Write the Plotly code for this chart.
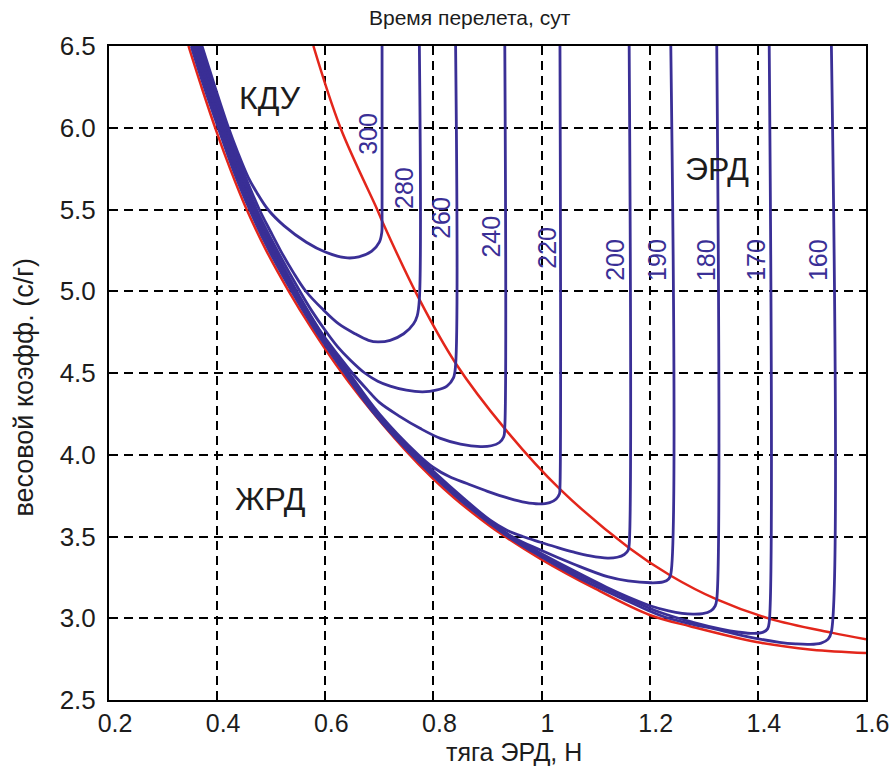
import plotly.graph_objects as go

# ---- axis ticks ----
X_TICKS = [0.2, 0.4, 0.6, 0.8, 1.0, 1.2, 1.4, 1.6]
X_TICK_TEXT = ["0.2", "0.4", "0.6", "0.8", "1", "1.2", "1.4", "1.6"]
Y_TICKS = [2.5, 3.0, 3.5, 4.0, 4.5, 5.0, 5.5, 6.0, 6.5]
Y_TICK_TEXT = ["2.5", "3.0", "3.5", "4.0", "4.5", "5.0", "5.5", "6.0", "6.5"]

# ---- red boundary curves ----
LOWER_X = [0.347, 0.372, 0.399, 0.425, 0.452, 0.489, 0.532, 0.575, 0.62, 0.665,
           0.748, 0.8, 0.838, 0.887, 0.924, 0.998, 1.1, 1.2, 1.276, 1.4, 1.5, 1.6]
LOWER_Y = [6.5, 6.24, 5.975, 5.741, 5.52, 5.261, 5.003, 4.771, 4.55, 4.352,
           4.028, 3.851, 3.737, 3.607, 3.518, 3.363, 3.179, 3.02, 2.95, 2.853, 2.808, 2.788]

UPPER_X = [0.578, 0.628, 0.696, 0.705, 0.774, 0.841, 0.932, 1.034, 1.162, 1.239,
           1.324, 1.421, 1.536, 1.6]
UPPER_Y = [6.5, 6.0, 5.5, 5.43, 4.95, 4.56, 4.16, 3.79, 3.43, 3.26,
           3.115, 2.998, 2.912, 2.872]

# ---- transfer-time curves (days) ----
T300_X = [0.372, 0.396, 0.421, 0.438, 0.457, 0.474, 0.494, 0.524, 0.565, 0.60,
          0.637, 0.662, 0.686, 0.70, 0.7045, 0.705, 0.705]
T300_Y = [6.5, 6.25, 6.0, 5.85, 5.7, 5.6, 5.5, 5.4, 5.3, 5.24,
          5.205, 5.21, 5.245, 5.30, 5.36, 5.41, 6.5]

T280_X = [0.369, 0.393, 0.418, 0.446, 0.478, 0.498, 0.517, 0.54, 0.564, 0.597,
          0.625, 0.655, 0.68, 0.697, 0.72, 0.745, 0.763, 0.770, 0.774, 0.774]
T280_Y = [6.5, 6.25, 6.0, 5.75, 5.5, 5.37, 5.25, 5.12, 5.0, 4.884,
          4.80, 4.74, 4.70, 4.69, 4.70, 4.74, 4.80, 4.85, 4.95, 6.5]

T260_X = [0.366, 0.390, 0.415, 0.443, 0.473, 0.511, 0.553, 0.575, 0.600, 0.623,
          0.646, 0.673, 0.697, 0.72, 0.75, 0.78, 0.805, 0.825, 0.837, 0.841, 0.841]
T260_Y = [6.5, 6.25, 6.0, 5.75, 5.5, 5.25, 5.0, 4.88, 4.76, 4.66,
          4.58, 4.50, 4.45, 4.42, 4.395, 4.385, 4.395, 4.42, 4.47, 4.55, 6.5]

T240_X = [0.364, 0.388, 0.413, 0.441, 0.471, 0.507, 0.547, 0.592, 0.626, 0.65,
          0.677, 0.70, 0.739, 0.776, 0.813, 0.85, 0.887, 0.907, 0.922, 0.930, 0.932, 0.932]
T240_Y = [6.5, 6.25, 6.0, 5.75, 5.5, 5.25, 5.0, 4.75, 4.6, 4.5,
          4.4, 4.32, 4.232, 4.16, 4.10, 4.065, 4.05, 4.055, 4.075, 4.11, 4.17, 6.5]

T220_X = [0.362, 0.386, 0.411, 0.439, 0.469, 0.505, 0.545, 0.591, 0.644, 0.70,
          0.772, 0.80, 0.83, 0.862, 0.90, 0.94, 0.97, 0.995, 1.015, 1.027, 1.033, 1.034, 1.034]
T220_Y = [6.5, 6.25, 6.0, 5.75, 5.5, 5.25, 5.0, 4.75, 4.5, 4.25,
          4.0, 3.922, 3.865, 3.824, 3.776, 3.733, 3.708, 3.699, 3.707, 3.73, 3.76, 3.80, 6.5]

T200_X = [0.360, 0.384, 0.409, 0.437, 0.467, 0.503, 0.544, 0.590, 0.642, 0.697,
          0.768, 0.850, 0.905, 0.935, 0.965, 0.998, 1.03, 1.06, 1.09, 1.122,
          1.14, 1.153, 1.16, 1.162, 1.162]
T200_Y = [6.5, 6.25, 6.0, 5.75, 5.5, 5.25, 5.0, 4.75, 4.5, 4.25,
          4.0, 3.75, 3.6, 3.54, 3.5, 3.465, 3.432, 3.404, 3.381, 3.368,
          3.373, 3.39, 3.415, 3.45, 6.5]

T190_X = [0.358, 0.382, 0.408, 0.435, 0.466, 0.502, 0.543, 0.589, 0.641, 0.696,
          0.766, 0.847, 0.945, 0.998, 1.06, 1.122, 1.16, 1.202, 1.225, 1.235, 1.239, 1.239]
T190_Y = [6.5, 6.25, 6.0, 5.75, 5.5, 5.25, 5.0, 4.75, 4.5, 4.25,
          4.0, 3.75, 3.5, 3.417, 3.33, 3.254, 3.228, 3.217, 3.222, 3.24, 3.27, 6.5]

T180_X = [0.356, 0.380, 0.406, 0.433, 0.464, 0.500, 0.542, 0.588, 0.640, 0.695,
          0.765, 0.845, 0.943, 1.0, 1.06, 1.12, 1.16, 1.202, 1.235, 1.26,
          1.28, 1.298, 1.313, 1.321, 1.324, 1.324]
T180_Y = [6.5, 6.25, 6.0, 5.75, 5.5, 5.25, 5.0, 4.75, 4.5, 4.25,
          4.0, 3.75, 3.5, 3.395, 3.29, 3.19, 3.13, 3.075, 3.045, 3.03,
          3.025, 3.028, 3.045, 3.075, 3.115, 6.5]

T170_X = [0.354, 0.378, 0.404, 0.431, 0.462, 0.498, 0.540, 0.586, 0.638, 0.693,
          0.762, 0.842, 0.940, 1.0, 1.07, 1.15, 1.22, 1.28, 1.33, 1.365,
          1.393, 1.410, 1.418, 1.421, 1.421]
T170_Y = [6.5, 6.25, 6.0, 5.75, 5.5, 5.25, 5.0, 4.75, 4.5, 4.25,
          4.0, 3.75, 3.5, 3.385, 3.26, 3.135, 3.035, 2.975, 2.935, 2.915,
          2.907, 2.915, 2.935, 2.975, 6.5]

T160_X = [0.352, 0.376, 0.402, 0.429, 0.460, 0.496, 0.538, 0.584, 0.636, 0.691,
          0.760, 0.840, 0.938, 1.0, 1.07, 1.15, 1.22, 1.28, 1.32, 1.38,
          1.44, 1.47, 1.495, 1.517, 1.530, 1.536, 1.536]
T160_Y = [6.5, 6.25, 6.0, 5.75, 5.5, 5.25, 5.0, 4.75, 4.5, 4.25,
          4.0, 3.75, 3.5, 3.375, 3.245, 3.12, 3.017, 2.962, 2.935, 2.888,
          2.853, 2.843, 2.84, 2.848, 2.872, 2.917, 6.5]

TIME_LABELS = ["300", "280", "260", "240", "220", "200", "190", "180", "170", "160"]
LABEL_X = [0.679, 0.746, 0.815, 0.907, 1.011, 1.137, 1.213, 1.304, 1.396, 1.511]
LABEL_Y = [5.963, 5.633, 5.446, 5.336, 5.263, 5.19, 5.19, 5.19, 5.19, 5.19]

REGION_TEXT = ["КДУ", "ЭРД", "ЖРД"]
REGION_X = [0.498, 1.324, 0.498]
REGION_Y = [6.18, 5.75, 3.73]

BLUE = "#3a2f96"
RED = "#e3261b"
TEXT = "#1c1c1c"
FONT = "Liberation Sans, Arial, sans-serif"

fig = go.Figure()

for xs, ys in [(LOWER_X, LOWER_Y), (UPPER_X, UPPER_Y)]:
    fig.add_trace(go.Scatter(x=xs, y=ys, mode="lines",
                             line=dict(color=RED, width=2.5, shape="spline", smoothing=1),
                             hoverinfo="skip", showlegend=False))

curves = [(T300_X, T300_Y), (T280_X, T280_Y), (T260_X, T260_Y), (T240_X, T240_Y),
          (T220_X, T220_Y), (T200_X, T200_Y), (T190_X, T190_Y), (T180_X, T180_Y),
          (T170_X, T170_Y), (T160_X, T160_Y)]
for xs, ys in curves:
    fig.add_trace(go.Scatter(x=xs, y=ys, mode="lines",
                             line=dict(color=BLUE, width=2.8, shape="spline", smoothing=1),
                             hoverinfo="skip", showlegend=False))

annotations = []
for txt, x, y in zip(TIME_LABELS, LABEL_X, LABEL_Y):
    annotations.append(dict(x=x, y=y, xref="x", yref="y", text=txt, showarrow=False,
                            textangle=-90, xanchor="center", yanchor="middle",
                            font=dict(family="Liberation Sans Narrow, Arial Narrow, sans-serif",
                                      size=25, color=BLUE)))
for txt, x, y in zip(REGION_TEXT, REGION_X, REGION_Y):
    annotations.append(dict(x=x, y=y, xref="x", yref="y", text=txt, showarrow=False,
                            xanchor="center", yanchor="middle",
                            font=dict(family=FONT, size=32, color=TEXT)))

annotations.append(dict(x=0.477, y=1.043, xref="paper", yref="paper",
                        text="Время перелета, сут", showarrow=False,
                        xanchor="center", yanchor="middle",
                        font=dict(family=FONT, size=21, color=TEXT)))
annotations.append(dict(x=0.535, y=-0.08, xref="paper", yref="paper",
                        text="тяга ЭРД, Н", showarrow=False,
                        xanchor="center", yanchor="middle",
                        font=dict(family=FONT, size=25, color=TEXT)))
annotations.append(dict(x=-0.112, y=0.478, xref="paper", yref="paper",
                        text="весовой коэфф. (с/г)", showarrow=False, textangle=-90,
                        xanchor="center", yanchor="middle",
                        font=dict(family=FONT, size=27, color=TEXT)))

axis_common = dict(showgrid=True, gridcolor="black", gridwidth=1.8, griddash="9px,6px",
                   showline=True, linecolor="black", linewidth=2, mirror="ticks",
                   ticks="inside", ticklen=6, tickwidth=2, tickcolor="black",
                   zeroline=False, automargin=False)

fig.update_xaxes(range=[0.2, 1.6], tickvals=X_TICKS, ticktext=X_TICK_TEXT,
                 ticklabelshift=6, ticklabelstandoff=0,
                 tickfont=dict(family=FONT, size=25, color=TEXT), **axis_common)
fig.update_yaxes(range=[2.5, 6.5], tickvals=Y_TICKS, ticktext=Y_TICK_TEXT,
                 ticklabelstandoff=6,
                 tickfont=dict(family=FONT, size=26, color=TEXT), **axis_common)

fig.update_layout(width=895, height=767,
                  margin=dict(l=109, r=29, t=46, b=67, autoexpand=False),
                  paper_bgcolor="white", plot_bgcolor="white",
                  annotations=annotations, showlegend=False)

fig.write_html("out.html")
